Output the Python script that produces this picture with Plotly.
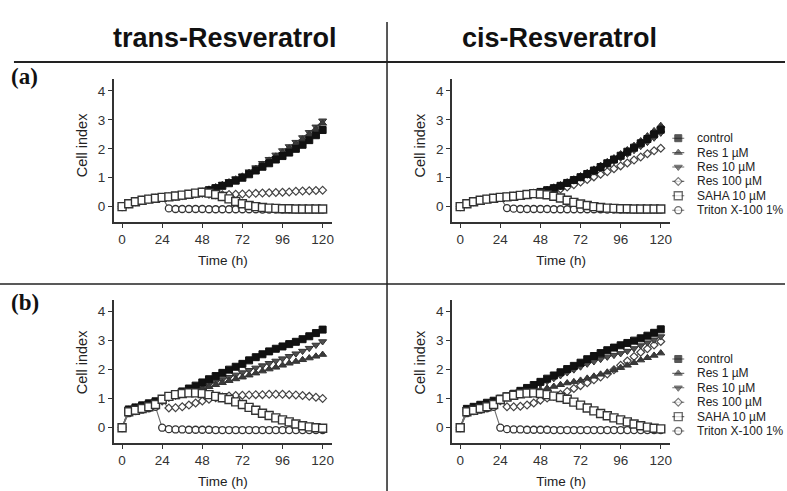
import plotly.graph_objects as go

W, H = 787, 491

time_h = list(range(0, 121, 4))

series_names = ["control", "Res 1 µM", "Res 10 µM", "Res 100 µM", "SAHA 10 µM", "Triton X-100 1%"]

# ---- (a) trans-Resveratrol ----
trans_a_control = [0, 0.10, 0.17, 0.22, 0.26, 0.29, 0.32, 0.34, 0.36, 0.39, 0.42, 0.46, 0.51, 0.57, 0.64, 0.72, 0.81, 0.90,
                   1.00, 1.12, 1.25, 1.38, 1.50, 1.63, 1.75, 1.87, 2.00, 2.14, 2.30, 2.47, 2.65]
trans_a_res1 = [0, 0.10, 0.17, 0.22, 0.26, 0.29, 0.32, 0.34, 0.37, 0.40, 0.43, 0.47, 0.53, 0.60, 0.68, 0.76, 0.85, 0.95,
                1.05, 1.18, 1.32, 1.46, 1.60, 1.74, 1.88, 2.02, 2.17, 2.33, 2.50, 2.68, 2.88]
trans_a_res10 = [0, 0.10, 0.17, 0.22, 0.26, 0.29, 0.32, 0.34, 0.37, 0.40, 0.44, 0.48, 0.54, 0.61, 0.69, 0.78, 0.87, 0.97,
                 1.07, 1.21, 1.35, 1.50, 1.64, 1.79, 1.94, 2.08, 2.23, 2.39, 2.57, 2.76, 2.97]
trans_a_res100 = [0, 0.10, 0.17, 0.22, 0.26, 0.29, 0.32, 0.34, 0.36, 0.39, 0.42, 0.45, 0.46, 0.43, 0.41, 0.41, 0.42, 0.43,
                  0.44, 0.45, 0.46, 0.47, 0.48, 0.49, 0.50, 0.51, 0.53, 0.54, 0.55, 0.56, 0.57]
trans_a_saha = [0, 0.10, 0.17, 0.22, 0.26, 0.29, 0.32, 0.34, 0.37, 0.40, 0.43, 0.47, 0.50, 0.47, 0.42, 0.35, 0.27, 0.18,
                0.10, 0.04, 0.00, -0.03, -0.05, -0.06, -0.07, -0.07, -0.08, -0.08, -0.08, -0.08, -0.08]
trans_a_triton = [0, 0.10, 0.17, 0.22, 0.26, 0.29, 0.32, -0.06, -0.08, -0.08, -0.08, -0.08, -0.08, -0.09, -0.09, -0.09, -0.09, -0.09,
                  -0.09, -0.09, -0.09, -0.10, -0.10, -0.10, -0.10, -0.10, -0.10, -0.10, -0.10, -0.10, -0.10]

# ---- (a) cis-Resveratrol ----
cis_a_control = [0, 0.10, 0.17, 0.22, 0.26, 0.29, 0.32, 0.34, 0.36, 0.39, 0.42, 0.46, 0.51, 0.57, 0.64, 0.72, 0.82, 0.92,
                 1.02, 1.13, 1.25, 1.37, 1.50, 1.63, 1.76, 1.90, 2.04, 2.19, 2.34, 2.50, 2.66]
cis_a_res1 = [0, 0.10, 0.17, 0.22, 0.26, 0.29, 0.32, 0.34, 0.37, 0.40, 0.43, 0.47, 0.52, 0.59, 0.67, 0.75, 0.85, 0.95,
              1.06, 1.17, 1.29, 1.42, 1.55, 1.68, 1.82, 1.96, 2.11, 2.27, 2.44, 2.62, 2.80]
cis_a_res10 = [0, 0.10, 0.17, 0.22, 0.26, 0.29, 0.32, 0.34, 0.36, 0.39, 0.42, 0.46, 0.50, 0.56, 0.63, 0.71, 0.80, 0.90,
               1.00, 1.10, 1.21, 1.33, 1.45, 1.57, 1.69, 1.82, 1.95, 2.09, 2.23, 2.38, 2.55]
cis_a_res100 = [0, 0.10, 0.17, 0.22, 0.26, 0.29, 0.32, 0.34, 0.36, 0.39, 0.42, 0.46, 0.49, 0.52, 0.56, 0.61, 0.68, 0.76,
                0.85, 0.94, 1.03, 1.12, 1.21, 1.31, 1.41, 1.51, 1.61, 1.72, 1.83, 1.93, 2.02]
cis_a_saha = [0, 0.10, 0.17, 0.22, 0.26, 0.29, 0.32, 0.34, 0.36, 0.39, 0.42, 0.45, 0.44, 0.41, 0.36, 0.30, 0.22, 0.15,
              0.09, 0.04, 0.00, -0.03, -0.05, -0.06, -0.07, -0.07, -0.08, -0.08, -0.08, -0.08, -0.08]
cis_a_triton = [0, 0.10, 0.17, 0.22, 0.26, 0.29, 0.32, -0.05, -0.07, -0.08, -0.08, -0.08, -0.08, -0.08, -0.09, -0.09, -0.09, -0.09,
                -0.09, -0.09, -0.09, -0.09, -0.10, -0.10, -0.10, -0.10, -0.10, -0.10, -0.10, -0.10, -0.10]

# ---- (b) trans-Resveratrol ----
trans_b_control = [0, 0.63, 0.70, 0.77, 0.84, 0.91, 0.98, 1.06, 1.15, 1.25, 1.35, 1.45, 1.56, 1.67, 1.78, 1.89, 2.00, 2.10,
                   2.20, 2.32, 2.43, 2.53, 2.63, 2.72, 2.80, 2.88, 2.96, 3.05, 3.15, 3.26, 3.38]
trans_b_res1 = [0, 0.60, 0.68, 0.75, 0.82, 0.88, 0.94, 1.00, 1.06, 1.13, 1.20, 1.27, 1.34, 1.41, 1.48, 1.55, 1.62, 1.68,
                1.74, 1.81, 1.88, 1.95, 2.02, 2.08, 2.15, 2.22, 2.28, 2.34, 2.40, 2.46, 2.52]
trans_b_res10 = [0, 0.61, 0.69, 0.76, 0.83, 0.89, 0.95, 1.02, 1.09, 1.17, 1.25, 1.33, 1.41, 1.50, 1.58, 1.66, 1.74, 1.82,
                 1.90, 1.98, 2.06, 2.14, 2.22, 2.30, 2.38, 2.46, 2.55, 2.64, 2.74, 2.85, 2.97]
trans_b_res100 = [0, 0.60, 0.67, 0.74, 0.80, 0.86, 0.92, 0.68, 0.69, 0.72, 0.78, 0.85, 0.92, 0.98, 1.03, 1.06, 1.09, 1.11,
                  1.12, 1.13, 1.14, 1.14, 1.15, 1.15, 1.15, 1.14, 1.13, 1.11, 1.08, 1.05, 1.01]
trans_b_saha = [0, 0.55, 0.60, 0.66, 0.72, 0.80, 0.98, 1.08, 1.14, 1.18, 1.20, 1.20, 1.18, 1.14, 1.08, 1.03, 0.97, 0.89,
                0.80, 0.70, 0.60, 0.50, 0.42, 0.34, 0.27, 0.20, 0.13, 0.07, 0.03, 0.00, -0.02]
trans_b_triton = [0, 0.50, 0.57, 0.62, 0.67, 0.72, 0.00, -0.05, -0.06, -0.06, -0.07, -0.07, -0.07, -0.07, -0.08, -0.08, -0.08, -0.08,
                  -0.08, -0.08, -0.08, -0.08, -0.08, -0.08, -0.08, -0.08, -0.08, -0.08, -0.08, -0.08, -0.08]

# ---- (b) cis-Resveratrol ----
cis_b_control = [0, 0.65, 0.72, 0.79, 0.86, 0.93, 1.00, 1.08, 1.17, 1.27, 1.37, 1.47, 1.58, 1.69, 1.80, 1.91, 2.02, 2.13,
                 2.24, 2.36, 2.47, 2.57, 2.67, 2.76, 2.84, 2.92, 3.00, 3.08, 3.17, 3.27, 3.39]
cis_b_res1 = [0, 0.62, 0.69, 0.76, 0.82, 0.88, 0.94, 1.00, 1.06, 1.12, 1.18, 1.24, 1.30, 1.36, 1.42, 1.48, 1.54, 1.58,
              1.63, 1.70, 1.77, 1.84, 1.91, 1.99, 2.07, 2.15, 2.24, 2.33, 2.41, 2.49, 2.57]
cis_b_res10 = [0, 0.63, 0.70, 0.77, 0.84, 0.90, 0.96, 1.04, 1.12, 1.20, 1.30, 1.40, 1.50, 1.60, 1.70, 1.80, 1.90, 2.00,
               2.10, 2.20, 2.28, 2.36, 2.44, 2.50, 2.56, 2.64, 2.73, 2.83, 2.93, 3.03, 3.14]
cis_b_res100 = [0, 0.61, 0.68, 0.75, 0.81, 0.87, 0.93, 0.72, 0.72, 0.74, 0.78, 0.85, 0.95, 1.02, 1.08, 1.15, 1.25, 1.35,
                1.45, 1.55, 1.65, 1.75, 1.85, 2.00, 2.15, 2.30, 2.45, 2.60, 2.72, 2.85, 2.97]
cis_b_saha = [0, 0.55, 0.60, 0.66, 0.72, 0.80, 0.97, 1.06, 1.12, 1.17, 1.19, 1.20, 1.18, 1.14, 1.09, 1.04, 0.98, 0.88,
              0.78, 0.68, 0.58, 0.49, 0.41, 0.34, 0.27, 0.20, 0.13, 0.07, 0.02, -0.02, -0.04]
cis_b_triton = [0, 0.50, 0.57, 0.62, 0.67, 0.72, 0.00, -0.05, -0.06, -0.06, -0.07, -0.07, -0.07, -0.07, -0.08, -0.08, -0.08, -0.08,
                -0.08, -0.08, -0.08, -0.08, -0.08, -0.08, -0.08, -0.08, -0.08, -0.08, -0.08, -0.08, -0.08]

panels = [
    ("x", "y", [trans_a_control, trans_a_res1, trans_a_res10, trans_a_res100, trans_a_saha, trans_a_triton]),
    ("x2", "y2", [cis_a_control, cis_a_res1, cis_a_res10, cis_a_res100, cis_a_saha, cis_a_triton]),
    ("x3", "y3", [trans_b_control, trans_b_res1, trans_b_res10, trans_b_res100, trans_b_saha, trans_b_triton]),
    ("x4", "y4", [cis_b_control, cis_b_res1, cis_b_res10, cis_b_res100, cis_b_saha, cis_b_triton]),
]

edge = "#333333"
styles = [
    dict(symbol="square", size=7, color="#111111", line=dict(color="#111111", width=1)),
    dict(symbol="triangle-up", size=7, color="#3a3a3a", line=dict(color=edge, width=1)),
    dict(symbol="triangle-down", size=7, color="#505050", line=dict(color=edge, width=1)),
    dict(symbol="diamond", size=6, color="white", line=dict(color="#444444", width=1.2)),
    dict(symbol="square", size=8, color="white", line=dict(color=edge, width=1.4)),
    dict(symbol="circle", size=7, color="white", line=dict(color=edge, width=1.3)),
]
line_color = "#6f6f6f"

fig = go.Figure()

draw_order = [3, 2, 1, 0, 5, 4]
for xa, ya, data in panels:
    for i in draw_order:
        fig.add_trace(go.Scatter(
            x=time_h, y=data[i], mode="lines+markers", name=series_names[i],
            xaxis=xa, yaxis=ya, showlegend=False,
            line=dict(color=line_color, width=1.1),
            marker=styles[i],
        ))

font_main = "Liberation Sans, Arial, sans-serif"

# compact custom legends on helper axes
legend_axes = [("x5", "y5"), ("x6", "y6")]
for xa, ya in legend_axes:
    for i, name in enumerate(series_names):
        fig.add_trace(go.Scatter(
            x=[4, 10, 16], y=[i, i, i], mode="lines+markers", xaxis=xa, yaxis=ya,
            showlegend=False, hoverinfo="skip",
            line=dict(color=line_color, width=1.1),
            marker=dict(symbol=styles[i]["symbol"], size=[0, styles[i]["size"], 0],
                        color=styles[i]["color"], line=styles[i]["line"]),
        ))
        fig.add_annotation(x=27, y=i, xref=xa, yref=ya, text=name, showarrow=False,
                           xanchor="left", yanchor="middle",
                           font=dict(family=font_main, size=12, color="#222222"))

def px_x(p):
    return p / W

def px_y(p):
    return 1 - p / H

axis_common = dict(showline=True, linecolor="#333333", linewidth=1.5, ticks="outside", ticklen=4,
                   tickcolor="#333333", tickwidth=1.2, showgrid=False, zeroline=False,
                   tickfont=dict(family=font_main, size=13.5, color="#333333"))

xdom_left = [px_x(114), px_x(333)]
xdom_right = [px_x(453), px_x(672)]
ydom_a = [px_y(222), px_y(79.4)]
ydom_b = [px_y(443.1), px_y(300)]

xr = [-5, 125.7]
yr = [-0.53, 4.4]

def xaxis(dom, anchor):
    return dict(domain=dom, anchor=anchor, range=xr, tickmode="array", tickvals=[0, 24, 48, 72, 96, 120],
                title=dict(text="Time (h)", font=dict(family=font_main, size=13.5, color="#222222"), standoff=10),
                **axis_common)

def yaxis(dom, anchor):
    return dict(domain=dom, anchor=anchor, range=yr, tickmode="array", tickvals=[0, 1, 2, 3, 4],
                **axis_common)

hidden = dict(visible=False, showgrid=False, zeroline=False, fixedrange=True)

fig.update_layout(
    width=W, height=H, margin=dict(l=0, r=0, t=0, b=0),
    paper_bgcolor="white", plot_bgcolor="white",
    xaxis=xaxis(xdom_left, "y"), yaxis=yaxis(ydom_a, "x"),
    xaxis2=xaxis(xdom_right, "y2"), yaxis2=yaxis(ydom_a, "x2"),
    xaxis3=xaxis(xdom_left, "y3"), yaxis3=yaxis(ydom_b, "x3"),
    xaxis4=xaxis(xdom_right, "y4"), yaxis4=yaxis(ydom_b, "x4"),
    xaxis5=dict(domain=[px_x(670), 1], anchor="y5", range=[0, 117], **hidden),
    yaxis5=dict(domain=[px_y(217.4), px_y(131)], anchor="x5", range=[5.5, -0.5], **hidden),
    xaxis6=dict(domain=[px_x(670), 1], anchor="y6", range=[0, 117], **hidden),
    yaxis6=dict(domain=[px_y(438.2), px_y(351.8)], anchor="x6", range=[5.5, -0.5], **hidden),
    showlegend=False,
)

# y-axis titles ("Cell index")
ylab_font = dict(family=font_main, size=14.5, color="#222222")
for xp, yp in [(82.5, 145), (421.5, 145), (82.5, 362), (421.5, 362)]:
    fig.add_annotation(x=px_x(xp), y=px_y(yp), xref="paper", yref="paper", text="Cell index",
                       textangle=-90, showarrow=False, xanchor="center", yanchor="middle", font=ylab_font)

# titles and panel labels
title_font = dict(family="Liberation Sans Narrow, Liberation Sans, Arial, sans-serif", size=27, color="#111111")
fig.add_annotation(x=px_x(226), y=px_y(38), xref="paper", yref="paper", text="<b>trans-Resveratrol</b>",
                   showarrow=False, xanchor="center", yanchor="middle", font=title_font)
fig.add_annotation(x=px_x(561), y=px_y(38), xref="paper", yref="paper", text="<b>cis-Resveratrol</b>",
                   showarrow=False, xanchor="center", yanchor="middle", font=title_font)
label_font = dict(family="Liberation Serif, Times New Roman, serif", size=23, color="#111111")
fig.add_annotation(x=px_x(9), y=px_y(77), xref="paper", yref="paper", text="<b>(a)</b>",
                   showarrow=False, xanchor="left", yanchor="middle", font=label_font)
fig.add_annotation(x=px_x(9), y=px_y(302), xref="paper", yref="paper", text="<b>(b)</b>",
                   showarrow=False, xanchor="left", yanchor="middle", font=label_font)

# divider lines
fig.add_shape(type="line", xref="paper", yref="paper", x0=px_x(388), x1=px_x(388), y0=px_y(22), y1=0,
              line=dict(color="#222222", width=1.5))
fig.add_shape(type="line", xref="paper", yref="paper", x0=px_x(14), x1=1, y0=px_y(62), y1=px_y(62),
              line=dict(color="#222222", width=2))
fig.add_shape(type="line", xref="paper", yref="paper", x0=0, x1=1, y0=px_y(284), y1=px_y(284),
              line=dict(color="#222222", width=1.5))

fig.write_html("out.html")
